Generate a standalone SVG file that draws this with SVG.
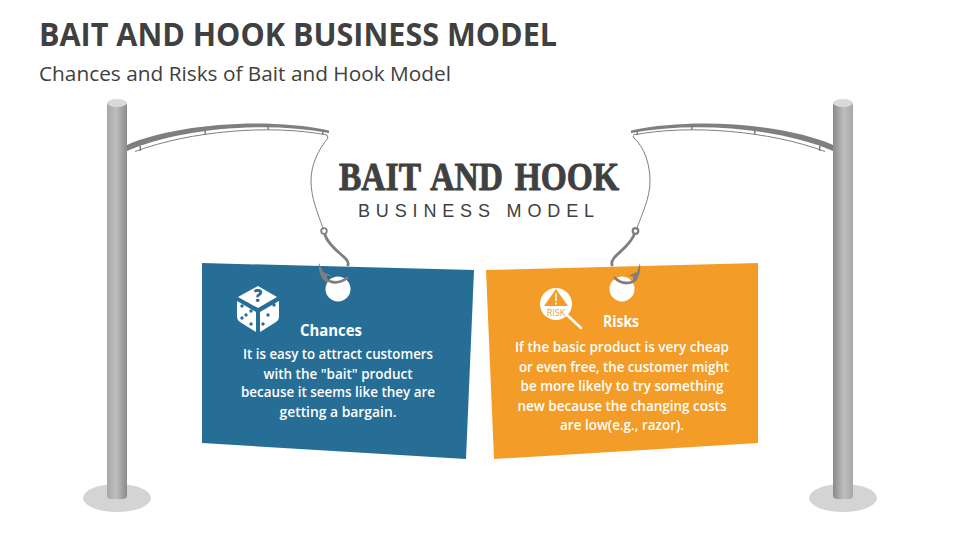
<svg xmlns="http://www.w3.org/2000/svg" width="960" height="540" viewBox="0 0 960 540">
<style>
text{font-family:"Open Sans","Liberation Sans",sans-serif}
.title{font-size:32px;font-weight:700;fill:#404040}
.sub{font-size:20.500px;fill:#404040}
.h{font-size:16px;font-weight:700;fill:#fff;text-anchor:middle}
.b{font-size:14px;font-weight:600;fill:#fff;text-anchor:middle}
.rod{fill:#7f7f7f}
.thin{fill:none;stroke:#7f7f7f;stroke-width:1}
.guide{fill:none;stroke:#7f7f7f;stroke-width:1}
.hook{fill:none;stroke:#7f7f7f;stroke-width:2.800;stroke-linecap:round}
</style>
<defs>
<linearGradient id="pole" x1="0" x2="1" y1="0" y2="0">
<stop offset="0" stop-color="#a6a6a6"/><stop offset=".45" stop-color="#bfbfbf"/><stop offset="1" stop-color="#8a8a8a"/>
</linearGradient>
<linearGradient id="pole2" x1="0" x2="1" y1="0" y2="0">
<stop offset="0" stop-color="#8a8a8a"/><stop offset=".55" stop-color="#bfbfbf"/><stop offset="1" stop-color="#a6a6a6"/>
</linearGradient>
</defs>
<rect width="960" height="540" fill="#fff"/>
<text class="title" x="39" y="46" textLength="518" lengthAdjust="spacingAndGlyphs">BAIT AND HOOK BUSINESS MODEL</text>
<text class="sub" x="39" y="81" textLength="412" lengthAdjust="spacingAndGlyphs">Chances and Risks of Bait and Hook Model</text>

<g id="pole-left">
<ellipse cx="117" cy="498" rx="34" ry="14" fill="#d4d4d4"/>
<path d="M107 103H127V495Q127 499 123 499H111Q107 499 107 495Z" fill="url(#pole)"/>
<ellipse cx="117" cy="103" rx="10" ry="4" fill="#d9d9d9"/>
</g>
<g id="pole-right">
<ellipse cx="843" cy="498" rx="34" ry="14" fill="#d4d4d4"/>
<path d="M833 103H853V495Q853 499 849 499H837Q833 499 833 495Z" fill="url(#pole2)"/>
<ellipse cx="843" cy="103" rx="10" ry="4" fill="#d9d9d9"/>
</g>

<g id="title-center">
<text x="479" y="190" text-anchor="middle" font-size="40" font-weight="700" fill="#404040" stroke="#404040" stroke-width=".9" word-spacing="4" style="font-family:'Liberation Serif',serif" textLength="280" lengthAdjust="spacingAndGlyphs">BAIT AND HOOK</text>
<text x="476" y="217" text-anchor="middle" font-size="18" fill="#404040" style="font-family:'Liberation Sans',sans-serif" textLength="236" lengthAdjust="spacing">BUSINESS MODEL</text>
</g>

<g id="card-chances">
<path d="M202 263L474 270L466 459L202 443Z" fill="#276e96"/>
<circle cx="338" cy="289" r="12.500" fill="#fff"/>
<g fill="#fff">
<path d="M258 286L277 297L258 308L238 297Z"/>
<path d="M237 301L256 312V332L240 322Q237 320 237 317Z"/>
<path d="M279 301L260 312V332L276 322Q279 320 279 317Z"/>
</g>
<g fill="#276e96">
<circle cx="242" cy="306" r="1.700"/><circle cx="251" cy="311" r="1.700"/><circle cx="246" cy="315" r="1.700"/><circle cx="242" cy="318" r="1.700"/><circle cx="251" cy="324" r="1.700"/>
<circle cx="274" cy="305" r="1.700"/><circle cx="268" cy="315" r="1.700"/><circle cx="263" cy="324" r="1.700"/>
</g>
<text x="258" y="302" text-anchor="middle" font-size="17" font-weight="800" fill="#276e96">?</text>
<text class="h" x="331" y="336" textLength="62" lengthAdjust="spacingAndGlyphs">Chances</text>
<text class="b" x="338" y="359" textLength="190" lengthAdjust="spacingAndGlyphs">It is easy to attract customers</text>
<text class="b" x="338" y="379" textLength="149" lengthAdjust="spacingAndGlyphs">with the "bait" product</text>
<text class="b" x="338" y="397" textLength="194" lengthAdjust="spacingAndGlyphs">because it seems like they are</text>
<text class="b" x="338" y="417" textLength="117" lengthAdjust="spacingAndGlyphs">getting a bargain.</text>
</g>

<g id="card-risks">
<path d="M486 270L758 263V443L494 459Z" fill="#f39c27"/>
<circle cx="622" cy="289" r="12.500" fill="#fff"/>
<circle cx="556" cy="304" r="16" fill="#fff"/>
<path d="M567 315L581 328" fill="none" stroke="#fff" stroke-width="2.600" stroke-linecap="round"/>
<path d="M556 289L568 306H544Z" fill="#f39c27"/>
<path d="M556 293.500V301M556 302.500V304.500" stroke="#fff" stroke-width="1.600" fill="none"/>
<text x="556" y="316" text-anchor="middle" font-size="9" fill="#f39c27">RISK</text>
<text class="h" x="621" y="327" textLength="36" lengthAdjust="spacingAndGlyphs">Risks</text>
<text class="b" x="622" y="352" textLength="214" lengthAdjust="spacingAndGlyphs">If the basic product is very cheap</text>
<text class="b" x="624" y="372" textLength="210" lengthAdjust="spacingAndGlyphs">or even free, the customer might</text>
<text class="b" x="622" y="391" textLength="203" lengthAdjust="spacingAndGlyphs">be more likely to try something</text>
<text class="b" x="622" y="411" textLength="209" lengthAdjust="spacingAndGlyphs">new because the changing costs</text>
<text class="b" x="622" y="430" textLength="124" lengthAdjust="spacingAndGlyphs">are low(e.g., razor).</text>
</g>

<g id="connectors">
<g id="rod-left">
<path class="rod" d="M127 145C170 126 260 116 329 130.500L329 133C260 120 175 130 127 151Z"/>
<path class="guide" d="M135 151.500C190 131 270 124 327 135"/>
<path class="rod" d="M139.500 146h1.500v5h-1.500zM204.500 130h1.500v5h-1.500zM267.500 125h1.500v5h-1.500zM322 131h1.500v4h-1.500z"/>
<path class="thin" d="M327 135L328 138C318 150 311 165 311 181C311 198 318 214 323 228"/>
<circle cx="324" cy="231" r="2.800" fill="none" stroke="#7f7f7f" stroke-width="1.800"/>
<path class="hook" d="M325 235C328 245 340 253 345 258Q349 262 348 265"/>
<path class="hook" d="M347 278C338 285 328 283 323 276"/>
<path class="rod" d="M319 263C318 271 321 279 327 283L327 276L332 276L323 272Z"/>
</g>
<g id="rod-right">
<path class="rod" d="M833 145C790 126 700 116 631 130.500L631 133C700 120 785 130 833 151Z"/>
<path class="guide" d="M825 151.500C770 131 690 124 633 135"/>
<path class="rod" d="M819 146h1.500v5h-1.500zM754 130h1.500v5h-1.500zM691 125h1.500v5h-1.500zM636.500 131h1.500v4h-1.500z"/>
<path class="thin" d="M633 136L634 138C645 148 650 165 650 181C650 198 642 214 637 228"/>
<circle cx="635.500" cy="231" r="2.800" fill="none" stroke="#7f7f7f" stroke-width="2.200"/>
<path class="hook" d="M634 235C630 245 618 253 614 258Q611 262 612 265"/>
<path class="hook" d="M615 278C622 285 632 284 636 279"/>
<path class="rod" d="M640 263C641 271 639 279 633 283L633 276L628 276L637 272Z"/>
</g>
</g>
</svg>
